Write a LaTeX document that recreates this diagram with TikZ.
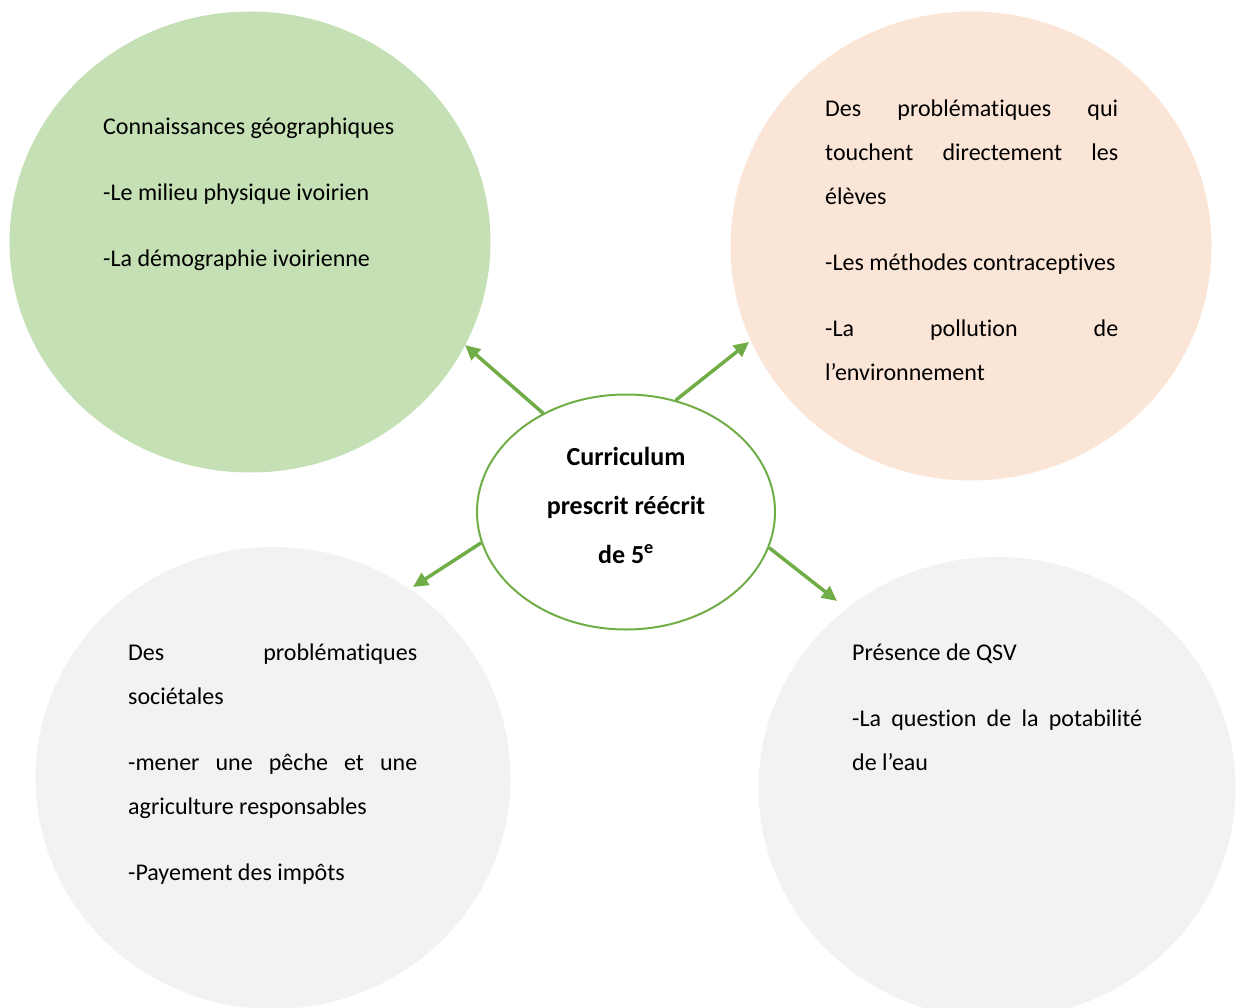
\documentclass[tikz,border=0pt]{standalone}
\usepackage{fontspec}
\setmainfont{Carlito}[Ligatures={NoCommon}]
\usetikzlibrary{shapes.geometric,arrows.meta}
\definecolor{cgreen}{HTML}{C5E0B4}
\definecolor{cpeach}{HTML}{FBE5D6}
\definecolor{cgrey}{HTML}{F2F2F2}
\definecolor{cline}{HTML}{70AD47}
\tikzset{
  blob/.style={ellipse, inner sep=0pt, draw=none},
  txt/.style={anchor=base west, inner sep=0pt, text width=#1, align=justify,
    font=\fontsize{24}{44}\selectfont,
    execute at begin node={\setlength{\parskip}{22pt}\setlength{\parindent}{0pt}\hyphenpenalty=10000\exhyphenpenalty=10000}},
  txt/.default=293pt,
  arr/.style={draw=cline, line width=3.5pt, -{Triangle[length=15pt,width=14pt]}},
}
\begin{document}
\begin{tikzpicture}[x=1pt,y=-1pt]
\useasboundingbox (0,0) rectangle (1236,1008);
\begin{scope}
\clip (0,0) rectangle (1236,1008);
\node[blob, fill=cgreen, minimum width=481pt, minimum height=461pt] (g) at (250,242) {};
\node[blob, fill=cpeach, minimum width=481pt, minimum height=469pt] (p) at (971,246) {};
\node[blob, fill=cgrey, minimum width=475pt, minimum height=462pt] (bl) at (273,778) {};
\node[blob, fill=cgrey, minimum width=477pt, minimum height=462pt] (br) at (997,788) {};
\end{scope}

\node[txt] (tg) at (103,135) {Connaissances géographiques\par -Le milieu physique ivoirien\par -La démographie ivoirienne};
\node[txt] (tp) at (825,117) {Des problématiques qui touchent directement les élèves\par -Les méthodes contraceptives\par -La pollution de l’environnement};
\node[txt=289pt] (tbl) at (128,660) {Des problématiques sociétales\par -mener une pêche et une agriculture responsables\par -Payement des impôts};
\node[txt=290pt] (tbr) at (852,660) {Présence de QSV\par -La question de la potabilité de l’eau};

\node[ellipse, draw=cline, line width=2pt, fill=white, minimum width=298pt, minimum height=235pt] (c) at (626,512) {};
\node[anchor=base, align=center, inner sep=0pt, font=\fontsize{26}{49}\selectfont\bfseries] (ct) at (626,563) {Curriculum\\prescrit réécrit\\de 5\textsuperscript{e}};

\coordinate (ag) at (465,345);
\coordinate (ap) at (749,342);
\coordinate (abl) at (413,587);
\coordinate (abr) at (837,601);
\draw[arr] (c.130) -- (ag);
\draw[arr] (c.66) -- (ap);
\draw[arr] (c.192) -- (abl);
\draw[arr] (c.346) -- (abr);
\end{tikzpicture}
\end{document}
